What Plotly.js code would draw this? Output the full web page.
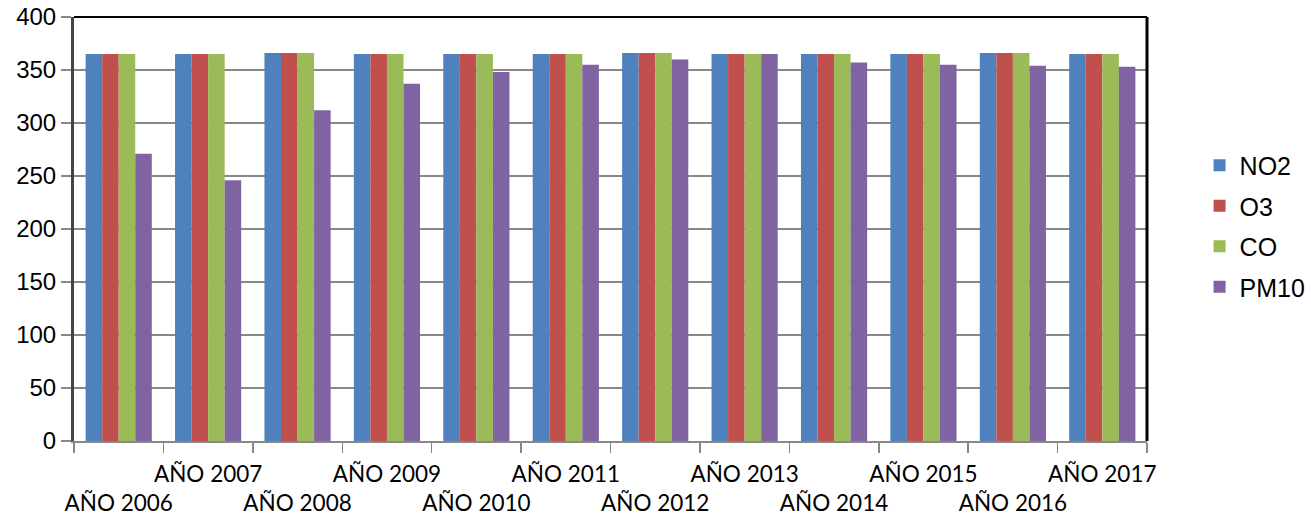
<!DOCTYPE html>
<html><head><meta charset="utf-8">
<script src="https://cdn.plot.ly/plotly-3.0.1.min.js"></script>
<style>html,body{margin:0;padding:0;background:#fff}#c{width:1311px;height:519px}</style>
</head><body><div id="c"></div>
<script>
const years = ["AÑO 2006","AÑO 2007","AÑO 2008","AÑO 2009","AÑO 2010","AÑO 2011","AÑO 2012","AÑO 2013","AÑO 2014","AÑO 2015","AÑO 2016","AÑO 2017"];
const no2  = [365,365,366,365,365,365,366,365,365,365,366,365];
const o3   = [365,365,366,365,365,365,366,365,365,365,366,365];
const co   = [365,365,366,365,365,365,366,365,365,365,366,365];
const pm10 = [271,246,312,337,348,355,360,365,357,355,354,353];
const seriesNames = ["NO2","O3","CO","PM10"];
const colors = ["#4F81BD","#C0504D","#9BBB59","#8064A2"];
const tickText = years.map((y,i)=> i%2===0 ? "<br>"+y : y);

const traces = [no2,o3,co,pm10].map((v,i)=>({
  type:"bar", x:years, y:v, name:seriesNames[i], legendgroup:"g"+i,
  marker:{color:colors[i], line:{width:0}}
}));

const layout = {
  width:1311, height:519,
  margin:{l:74, r:164, t:17, b:78, pad:0, autoexpand:false},
  paper_bgcolor:"#fff", plot_bgcolor:"#fff",
  font:{family:"Liberation Sans, Arial, sans-serif", size:22, color:"#000"},
  barmode:"group", bargap:0.26, bargroupgap:0,
  showlegend:true,
  legend:{x:1.049, xanchor:"left", y:0.507, yanchor:"middle", tracegroupgap:5,
          itemwidth:30,
          font:{family:"Liberation Sans, Arial, sans-serif", size:25, color:"#000"},
          bgcolor:"rgba(0,0,0,0)"},
  xaxis:{type:"category", tickmode:"array", tickvals:years, ticktext:tickText,
         tickson:"boundaries", ticks:"outside", ticklen:10, tickwidth:1.5, tickcolor:"#888",
         showgrid:false, showline:true, linecolor:"#888", linewidth:2,
         ticklabelstandoff:12,
         tickfont:{family:"Lato, sans-serif", size:22.5, color:"#000"}, tickangle:0,
         range:[-0.5,11.5]},
  yaxis:{range:[0,400], dtick:50, tick0:0, ticks:"outside", ticklen:10, tickwidth:1.5, tickcolor:"#888",
         showgrid:true, gridcolor:"#888", gridwidth:1.5, zeroline:false,
         showline:true, linecolor:"#444", linewidth:3,
         tickfont:{family:"Liberation Sans, Arial, sans-serif", size:24, color:"#000"}},
  shapes:[
    {type:"line", xref:"paper", yref:"paper", x0:0, x1:1, y0:1, y1:1, line:{color:"#000", width:2}},
    {type:"line", xref:"paper", yref:"paper", x0:1, x1:1, y0:0, y1:1, line:{color:"#000", width:3}}
  ]
};
Plotly.newPlot("c", traces, layout, {displayModeBar:false, staticPlot:true});
</script>
</body></html>
